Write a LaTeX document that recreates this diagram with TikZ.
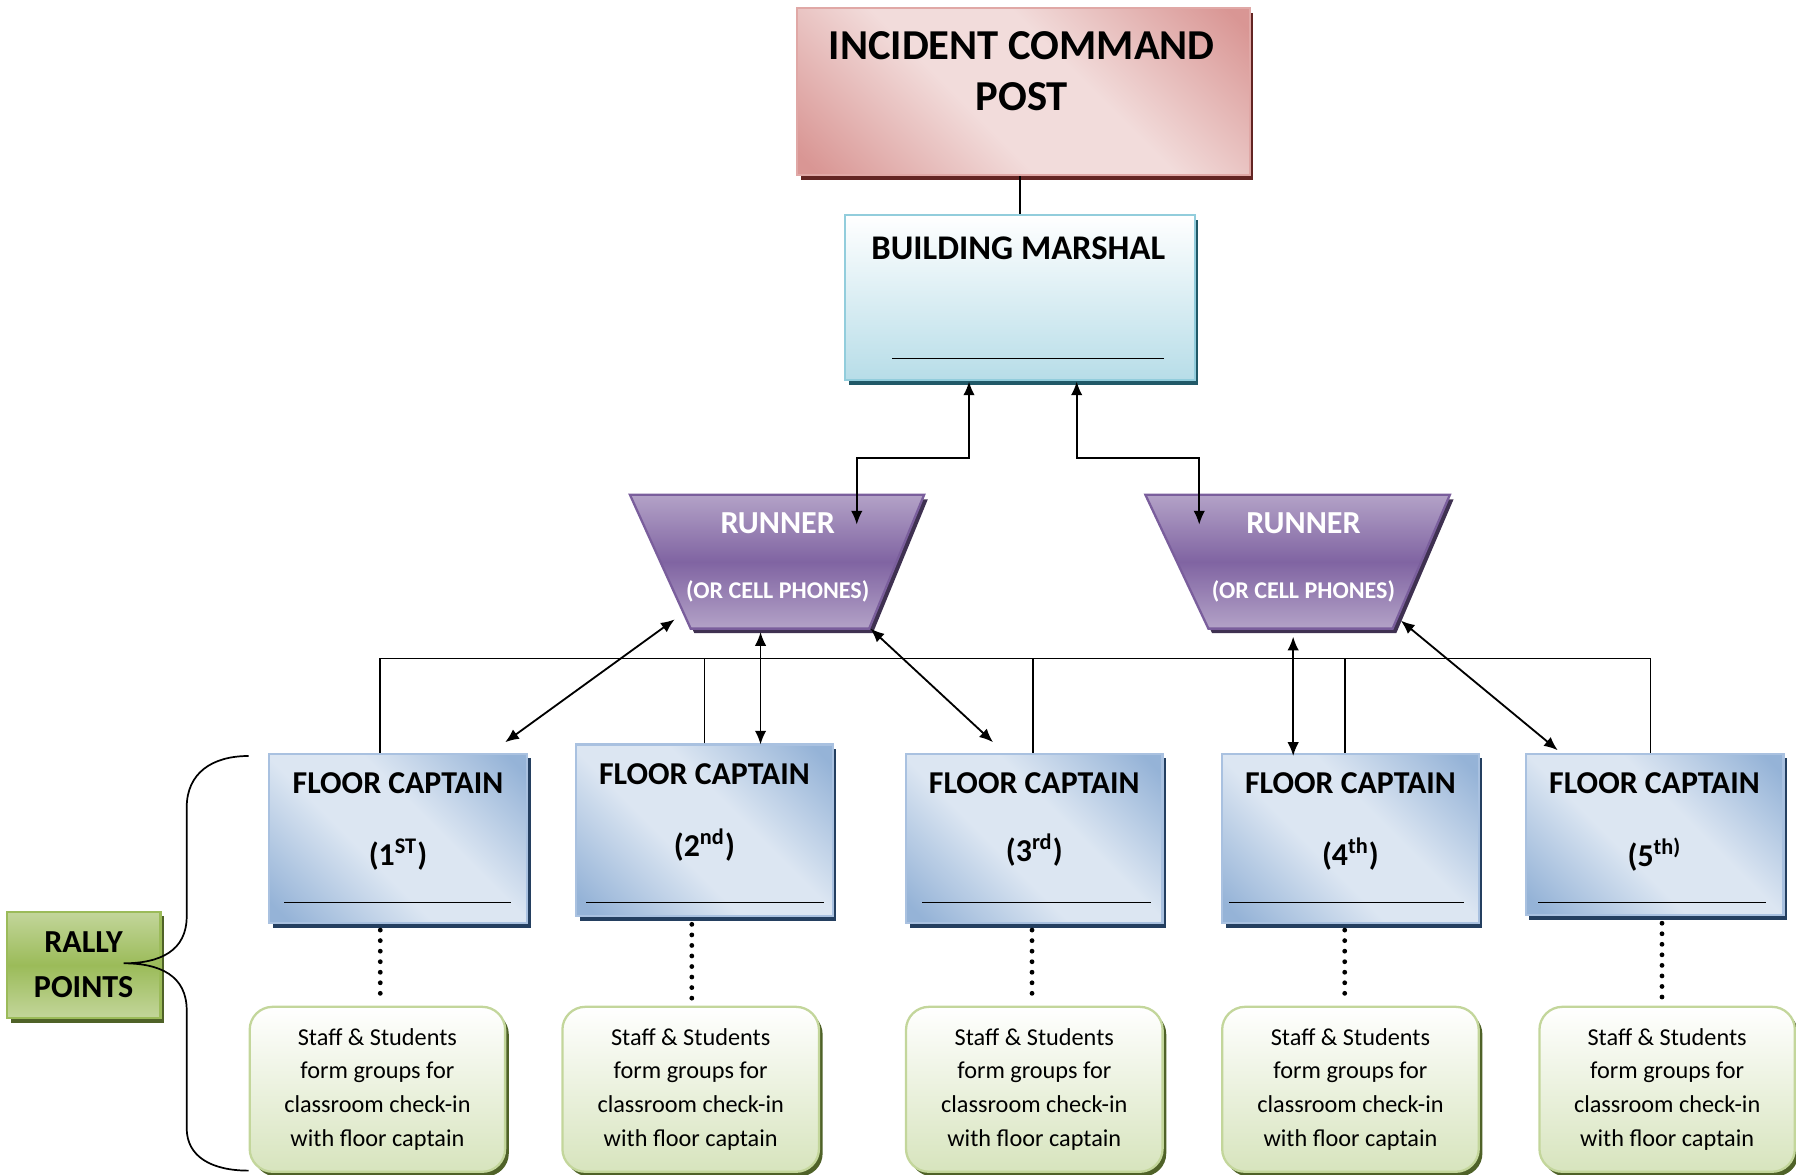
\documentclass[tikz,border=0pt]{standalone}
\usepackage{fontspec}
\setmainfont{Carlito}
\usetikzlibrary{arrows.meta,calc}
\definecolor{icpdark}{HTML}{D99694}
\definecolor{icplight}{HTML}{F2DCDB}
\definecolor{icpborder}{HTML}{E0A8A6}
\definecolor{icpshadow}{HTML}{632523}
\definecolor{mlight}{HTML}{FFFFFF}
\definecolor{mdark}{HTML}{B7DDE8}
\definecolor{mborder}{HTML}{92CDDC}
\definecolor{mshadow}{HTML}{215968}
\definecolor{rlight}{HTML}{B3A2C7}
\definecolor{rdark}{HTML}{8064A2}
\definecolor{rborder}{HTML}{7A5E9C}
\definecolor{rshadow}{HTML}{3F3151}
\definecolor{fdark}{HTML}{95B3D7}
\definecolor{flight}{HTML}{DCE6F2}
\definecolor{fborder}{HTML}{A9C1E0}
\definecolor{fshadow}{HTML}{243F60}
\definecolor{gdark}{HTML}{D7E4BD}
\definecolor{gborder}{HTML}{C3D69B}
\definecolor{gshadow}{HTML}{4F6228}
\definecolor{rpdark}{HTML}{9BBB59}
\definecolor{rplight}{HTML}{C3D69B}
\pgfdeclareverticalshading{icpshade}{100bp}{color(0bp)=(icpdark); color(17bp)=(icpdark); color(42bp)=(icplight); color(58bp)=(icplight); color(83bp)=(icpdark); color(100bp)=(icpdark)}
\pgfdeclareverticalshading{fcshade}{100bp}{color(0bp)=(fdark); color(18bp)=(fdark); color(42bp)=(flight); color(58bp)=(flight); color(82bp)=(fdark); color(100bp)=(fdark)}
\begin{document}
\begin{tikzpicture}[x=0.5pt,y=-0.5pt,
  shadowed/.style={preaction={fill=#1, transform canvas={shift={(1.6pt,-2pt)}}}},
  boxbase/.style={rectangle, inner sep=0pt, anchor=north west, line width=1pt},
  icpbox/.style={boxbase, draw=icpborder, shadowed=icpshadow, shading=icpshade, shading angle=-45},
  mbox/.style={boxbase, draw=mborder, shadowed=mshadow, top color=mlight, bottom color=mdark},
  rbox/.style={line width=1pt, draw=rborder, shadowed=rshadow, top color=rlight, bottom color=rlight, middle color=rdark},
  fcbox/.style={boxbase, draw=fborder, shadowed=fshadow, shading=fcshade, shading angle=-45},
  gbox/.style={boxbase, rounded corners=10pt, draw=gborder, shadowed=gshadow, top color=white, bottom color=gdark,
     align=center, font=\fontsize{10.6}{14.75}\selectfont},
  rallybox/.style={boxbase, draw=rpdark, shadowed=gshadow, top color=rplight, bottom color=rplight, middle color=rpdark,
     align=center, font=\fontsize{14}{19.5}\selectfont\bfseries},
  fctitle/.style={inner sep=0pt, font=\fontsize{13.9}{16}\selectfont\bfseries},
  rtitle/.style={inner sep=0pt, text=white, font=\fontsize{14}{16}\selectfont\bfseries},
  rsub/.style={inner sep=0pt, text=white, font=\fontsize{10.5}{12}\selectfont\bfseries},
  ln/.style={line width=0.75pt},
  arr/.style={line width=0.8pt, {Latex[length=6pt,width=5pt]}-{Latex[length=6pt,width=5pt]}},
  dots/.style={line width=2.1pt, line cap=round, dash pattern=on 0pt off 4.6pt}
]
\useasboundingbox (0,0) rectangle (1568,1025);

% Incident command post
\node[icpbox, minimum width=197.5pt, minimum height=73pt] (icp) at (695,6) {};
\node[inner sep=0pt, align=center, font=\fontsize{18.6}{22.5}\selectfont\bfseries] (icpt) at (892,62) {INCIDENT COMMAND\\POST};

% Building marshal
\node[mbox, minimum width=152.5pt, minimum height=72pt] (m) at (737,187) {};
\node[inner sep=0pt, font=\fontsize{15.1}{18}\selectfont\bfseries] (mt) at (889,217) {BUILDING MARSHAL};
\draw[ln] ($(m.south west)+(42,-20)$) -- ($(m.south east)+(-28,-20)$);
\draw[ln] (icp.south -| m.north) -- (m.north);

% Runners
\node[inner sep=0pt, minimum width=128pt, minimum height=58pt, anchor=north west] (r1) at (550,432) {};
\node[inner sep=0pt, minimum width=132.5pt, minimum height=58pt, anchor=north west] (r2) at (1000,432) {};
\path[rbox] (r1.north west) -- (r1.north east) -- ($(r1.south east)+(-48,0)$) -- ($(r1.south west)+(53,0)$) -- cycle;
\path[rbox] (r2.north west) -- (r2.north east) -- ($(r2.south east)+(-50,0)$) -- ($(r2.south west)+(55,0)$) -- cycle;
\node[rtitle] (r1a) at (679,457) {RUNNER};
\node[rsub] (r1b) at (679,516) {(OR CELL PHONES)};
\node[rtitle] (r2a) at (1138,457) {RUNNER};
\node[rsub] (r2b) at (1138,516) {(OR CELL PHONES)};

% Floor captains
\node[fcbox, minimum width=112.5pt, minimum height=74pt] (f1) at (234,657) {};
\node[fcbox, minimum width=112pt, minimum height=75pt] (f2) at (502,649) {};
\node[fcbox, minimum width=112pt, minimum height=74pt] (f3) at (790,657) {};
\node[fcbox, minimum width=112pt, minimum height=74pt] (f4) at (1066,657) {};
\node[fcbox, minimum width=112.5pt, minimum height=70.5pt] (f5) at (1331,657) {};

\node[fctitle] (f1t) at ($(f1.north)+(0,27)$) {FLOOR CAPTAIN};
\node[fctitle] (f1o) at ($(f1.north)+(0,89)$) {(1\textsuperscript{ST})};
\node[fctitle] (f2t) at ($(f2.north)+(0,27)$) {FLOOR CAPTAIN};
\node[fctitle] (f2o) at ($(f2.north)+(0,89)$) {(2\textsuperscript{nd})};
\node[fctitle] (f3t) at ($(f3.north)+(0,27)$) {FLOOR CAPTAIN};
\node[fctitle] (f3o) at ($(f3.north)+(0,85)$) {(3\textsuperscript{rd})};
\node[fctitle] (f4t) at ($(f4.north)+(0,27)$) {FLOOR CAPTAIN};
\node[fctitle] (f4o) at ($(f4.north)+(0,89)$) {(4\textsuperscript{th})};
\node[fctitle] (f5t) at ($(f5.north)+(0,27)$) {FLOOR CAPTAIN};
\node[fctitle] (f5o) at ($(f5.north)+(0,89)$) {(5\textsuperscript{th)}};

\draw[ln] ($(f1.south west)+(14,-19)$) -- ($(f1.south east)+(-15,-19)$);
\draw[ln] ($(f2.south west)+(10,-13)$) -- ($(f2.south east)+(-9,-13)$);
\draw[ln] ($(f3.south west)+(15,-19)$) -- ($(f3.south east)+(-11,-19)$);
\draw[ln] ($(f4.south west)+(7,-19)$) -- ($(f4.south east)+(-14,-19)$);
\draw[ln] ($(f5.south west)+(12,-12)$) -- ($(f5.south east)+(-16,-12)$);

% Green groups
\node[gbox, minimum width=111.5pt, minimum height=72pt] (g1) at (217,878) {Staff \& Students\\form groups for\\classroom check-in\\with floor captain};
\node[gbox, minimum width=112pt, minimum height=72pt] (g2) at (490,878) {Staff \& Students\\form groups for\\classroom check-in\\with floor captain};
\node[gbox, minimum width=112pt, minimum height=72pt] (g3) at (790,878) {Staff \& Students\\form groups for\\classroom check-in\\with floor captain};
\node[gbox, minimum width=112pt, minimum height=72pt] (g4) at (1066,878) {Staff \& Students\\form groups for\\classroom check-in\\with floor captain};
\node[gbox, minimum width=111.5pt, minimum height=72pt] (g5) at (1343,878) {Staff \& Students\\form groups for\\classroom check-in\\with floor captain};

% Rally points
\node[rallybox, minimum width=67pt, minimum height=46.5pt] (rally) at (5,795) {RALLY\\POINTS};
\draw[ln] (217,660) .. controls (185,660) and (163,675) .. (163,705) -- (163,800)
  .. controls (163,830) and (140,841) .. (108,841)
  .. controls (140,841) and (163,852) .. (163,882) -- (163,985)
  .. controls (163,1010) and (185,1022) .. (217,1022);

% Marshal <-> runners
\draw[arr] ($(m.south west)+(109,0)$) -- ++(0,67) -| ($(r1.north west)+(198,26)$);
\draw[arr] ($(m.south west)+(203,0)$) -- ++(0,67) -| ($(r2.north west)+(47,26)$);

% Bus line
\draw[ln] ($(f1.north west)+(98,0)$) |- ($(f5.north west)+(55,-82)$) -| ($(f5.north west)+(110,0)$);
\draw[ln] ($(f2.north west)+(113,0)$) -- ++(0,-74);
\draw[ln] ($(f3.north west)+(112,0)$) -- ++(0,-82);
\draw[ln] ($(f4.north west)+(108,0)$) -- ++(0,-82);

% Runner <-> floor captains
\draw[arr] ($(r1.south west)+(39,-8)$) -- ($(f1.north west)+(207,-9)$);
\draw[arr] ($(r1.south west)+(114,3)$) -- ($(f2.north west)+(162,1)$);
\draw[arr] ($(r1.south west)+(210,0)$) -- ($(f3.north west)+(77,-9)$);
\draw[arr] ($(r2.south west)+(129,7)$) -- ($(f4.north west)+(63,3)$);
\draw[arr] ($(r2.south west)+(223,-7)$) -- ($(f5.north west)+(29,-2)$);

% Dotted links
\draw[dots] ($(f1.south west)+(98,5)$) -- ($(g1.north west)+(115,-2)$);
\draw[dots] ($(f2.south west)+(102,6)$) -- ($(g2.north west)+(114,-4)$);
\draw[dots] ($(f3.south west)+(111,5)$) -- ($(g3.north west)+(111,-2)$);
\draw[dots] ($(f4.south west)+(108,5)$) -- ($(g4.north west)+(108,-2)$);
\draw[dots] ($(f5.south west)+(120,6)$) -- ($(g5.north west)+(108,-4)$);
\end{tikzpicture}
\end{document}
